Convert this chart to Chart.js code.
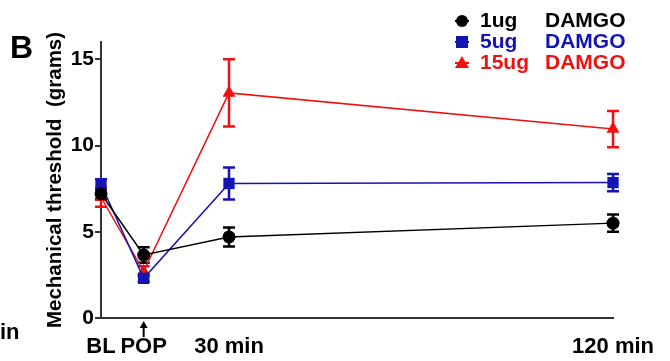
<!DOCTYPE html>
<html>
<head>
<meta charset="utf-8">
<script src="https://cdn.jsdelivr.net/npm/chart.js"></script>
<style>
    body { margin: 0; background: #fff; }
    #box { position: relative; width: 670px; height: 361px; }
</style>
</head>
<body>
<div id="box"><canvas id="grafico" width="670" height="361"></canvas></div>
<script>
    // tempos (min) e rótulos do eixo x
    var tempos = [0, 10, 30, 120];
    var rotulosX = ['BL', 'POP', '30 min', '120 min'];
    var ticksY = [0, 5, 10, 15];

    // limiar mecânico (gramas) por dose
    var dose1 = [7.2, 3.65, 4.7, 5.5];
    var erro1 = [0.3, 0.45, 0.55, 0.5];
    var dose5 = [7.75, 2.3, 7.8, 7.85];
    var erro5 = [0.3, 0.2, 0.93, 0.5];
    var dose15 = [7.0, 2.7, 13.05, 10.95];
    var erro15 = [0.55, 0.3, 1.95, 1.05];

    var nomesDose = ['1ug', '5ug', '15ug'];
    var cores = ['#000000', '#1414b4', '#f01010'];
    var simbolos = ['circle', 'rect', 'triangle'];
    var raios = [6.5, 8, 7.5];

    function pontos(valores) {
        return valores.map(function (v, i) { return { x: tempos[i], y: v }; });
    }

    var erros = [erro1, erro5, erro15];

    var barrasErro = {
        id: 'barrasErro',
        beforeDatasetsDraw: function (chart) {
            var ctx = chart.ctx;
            var sx = chart.scales.x, sy = chart.scales.y;
            chart.data.datasets.forEach(function (ds, d) {
                ctx.save();
                ctx.strokeStyle = cores[d];
                ctx.lineWidth = 2.5;
                ds.data.forEach(function (p, i) {
                    var x = sx.getPixelForValue(p.x);
                    var y1 = sy.getPixelForValue(p.y + erros[d][i]);
                    var y2 = sy.getPixelForValue(p.y - erros[d][i]);
                    ctx.beginPath();
                    ctx.moveTo(x, y1); ctx.lineTo(x, y2);
                    ctx.moveTo(x - 6, y1); ctx.lineTo(x + 6, y1);
                    ctx.moveTo(x - 6, y2); ctx.lineTo(x + 6, y2);
                    ctx.stroke();
                });
                ctx.restore();
            });
        }
    };

    var extras = {
        id: 'extras',
        afterDraw: function (chart) {
            var ctx = chart.ctx;
            ctx.save();
            ctx.textBaseline = 'middle';
            ctx.textAlign = 'left';
            ctx.fillStyle = '#000';
            ctx.font = 'bold 32px "Liberation Sans", Arial, sans-serif';
            ctx.fillText('B', 10, 49);
            ctx.font = 'bold 22px "Liberation Sans", Arial, sans-serif';
            ctx.fillText('in', 0, 333);

            // seta abaixo de POP
            var xp = chart.scales.x.getPixelForValue(tempos[1]);
            ctx.strokeStyle = '#000';
            ctx.lineWidth = 2;
            ctx.beginPath();
            ctx.moveTo(xp, 337); ctx.lineTo(xp, 324);
            ctx.stroke();
            ctx.beginPath();
            ctx.moveTo(xp - 4, 328); ctx.lineTo(xp, 321); ctx.lineTo(xp + 4, 328);
            ctx.closePath();
            ctx.fill();

            // legenda
            ctx.font = 'bold 21px "Liberation Sans", Arial, sans-serif';
            for (var i = 0; i < 3; i++) {
                var y = 21 + i * 21;
                ctx.fillStyle = cores[i];
                ctx.strokeStyle = cores[i];
                ctx.lineWidth = 2;
                ctx.beginPath();
                ctx.moveTo(455, y); ctx.lineTo(469, y);
                ctx.stroke();
                ctx.beginPath();
                if (i == 0) {
                    ctx.arc(462, y, 6, 0, Math.PI * 2);
                } else if (i == 1) {
                    ctx.rect(456, y - 6, 12, 12);
                } else {
                    ctx.moveTo(462, y - 7); ctx.lineTo(469, y + 5); ctx.lineTo(455, y + 5);
                    ctx.closePath();
                }
                ctx.fill();
                ctx.fillText(nomesDose[i], 480, y);
                ctx.fillText('DAMGO', 545, y);
            }
            ctx.restore();
        }
    };

    var conjuntos = [dose1, dose5, dose15].map(function (valores, i) {
        return {
            label: nomesDose[i] + ' DAMGO',
            data: pontos(valores),
            borderColor: cores[i],
            backgroundColor: cores[i],
            borderWidth: 1.5,
            pointStyle: simbolos[i],
            pointRadius: raios[i],
            pointBorderWidth: 0,
            pointHoverRadius: raios[i],
            clip: false,
            order: i
        };
    });

    var fonteEixo = { family: '"Liberation Sans", Arial, sans-serif', weight: 'bold' };

    var config = {
        type: 'line',
        data: { datasets: conjuntos },
        plugins: [barrasErro, extras],
        options: {
            responsive: false,
            animation: false,
            layout: { padding: { top: 42, right: 53, bottom: 0, left: 0 } },
            plugins: { legend: { display: false }, tooltip: { enabled: false } },
            scales: {
                x: {
                    type: 'linear',
                    min: 0,
                    max: 120,
                    afterBuildTicks: function (s) {
                        s.ticks = tempos.map(function (t) { return { value: t }; });
                    },
                    afterFit: function (s) { s.height = 43; },
                    ticks: {
                        autoSkip: false,
                        maxRotation: 0,
                        padding: 16,
                        color: '#000',
                        font: Object.assign({ size: 22 }, fonteEixo),
                        callback: function (v) { return rotulosX[tempos.indexOf(v)]; }
                    },
                    grid: { display: false, drawTicks: false },
                    border: { display: true, color: '#333', width: 2 }
                },
                y: {
                    min: 0,
                    max: 16,
                    afterBuildTicks: function (s) {
                        s.ticks = ticksY.map(function (t) { return { value: t }; });
                    },
                    afterFit: function (s) { s.width = 101; },
                    ticks: {
                        padding: 1,
                        color: '#000',
                        font: Object.assign({ size: 21 }, fonteEixo)
                    },
                    grid: { drawOnChartArea: false, color: '#333', lineWidth: 2, tickLength: 6 },
                    border: { display: true, color: '#333', width: 2 },
                    title: {
                        display: true,
                        text: 'Mechanical threshold  (grams)',
                        color: '#000',
                        font: Object.assign({ size: 20.5 }, fonteEixo),
                        padding: { top: 43, bottom: 0 }
                    }
                }
            }
        }
    };

    var myChart = new Chart(document.getElementById('grafico'), config);
</script>
</body>
</html>
